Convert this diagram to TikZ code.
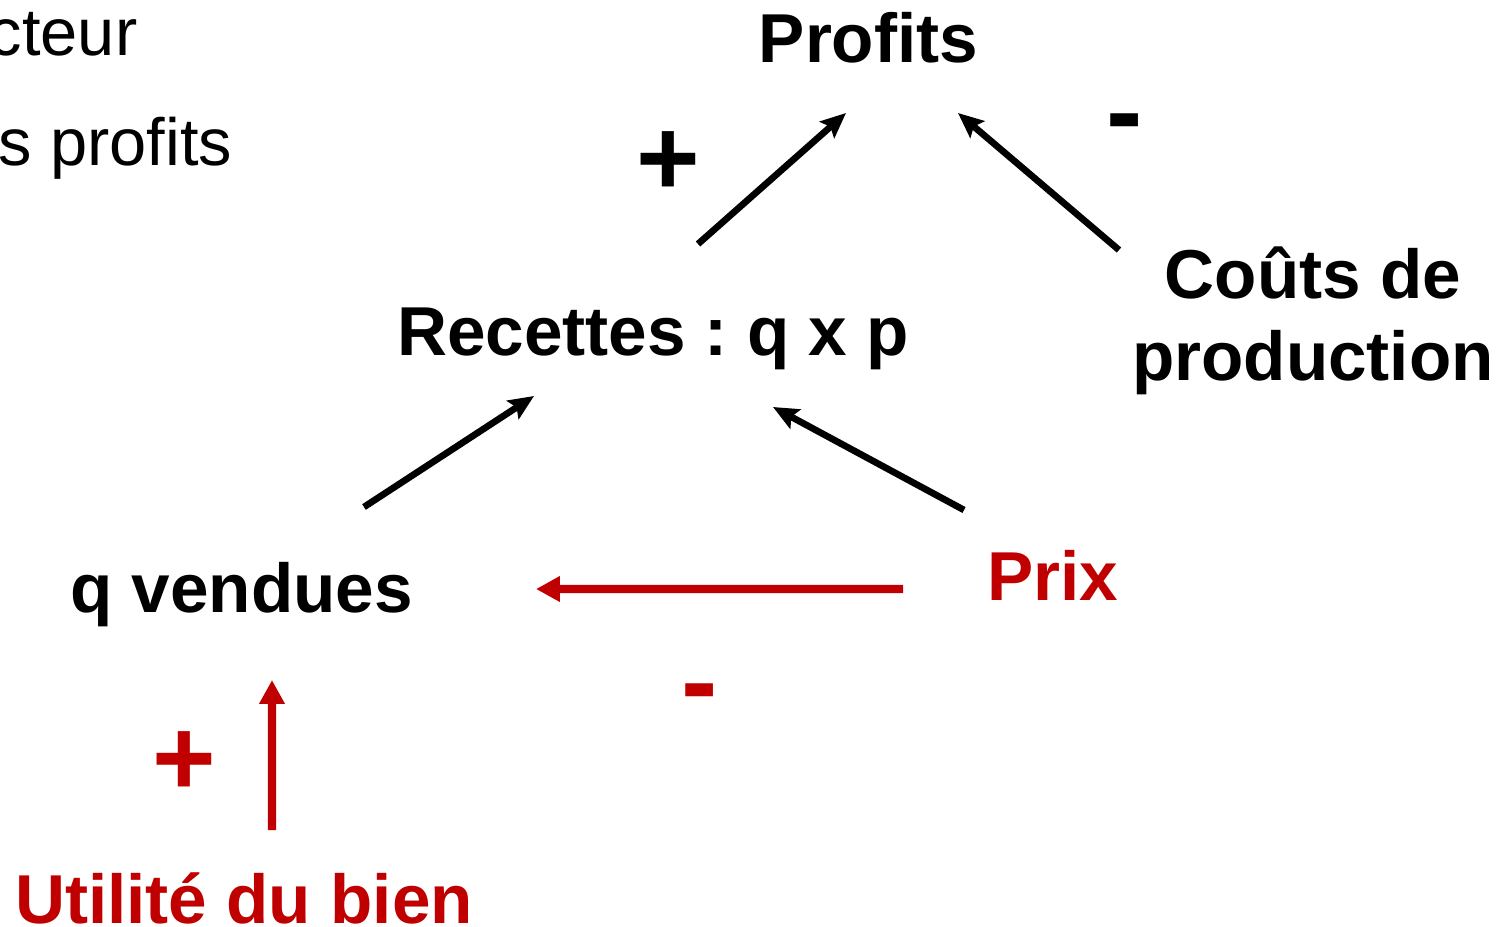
\documentclass[tikz,border=0pt]{standalone}
\usepackage{fontspec}
\setmainfont{Liberation Sans}
\usepackage{tikz}
\usetikzlibrary{arrows.meta, positioning}
\definecolor{darkred}{HTML}{C00000}
\frenchspacing
\tikzstyle{term} = [font=\fontsize{19.7}{23.3}\selectfont\bfseries, inner sep=0pt, anchor=base]
\tikzstyle{redterm} = [term, text=darkred]
\tikzstyle{slidetext} = [font=\fontsize{19}{23}\selectfont, inner sep=0pt, anchor=base east]
\tikzstyle{sign} = [font=\fontsize{31}{36}\selectfont\bfseries, inner sep=0pt, anchor=base]
\tikzstyle{arrow} = [line width=1.9pt, -{Stealth[length=7.2pt, width=6.2pt, inset=1.3pt]}]
\tikzstyle{redarrow} = [darkred, line width=2.4pt, -{Triangle[length=6.8pt, width=6.9pt]}]

\begin{document}
\begin{tikzpicture}
        \useasboundingbox (0,0) rectangle (15.01,-9.26);
        \clip (0,0) rectangle (15.01,-9.26);

        \node (titlea) [slidetext] at (1.38,-0.55) {cteur};
        \node (titleb) [slidetext] at (2.33,-1.65) {s profits};

        \node (profits) [term] at (8.685,-0.62) {Profits};
        \node (recettes) [term] at (6.53,-3.55) {Recettes : q x p};
        \node (couts) [term, anchor=center, align=center] at (13.13,-3.21) {Coûts de\\production};
        \node (qvendues) [term] at (2.415,-6.12) {q vendues};
        \node (prix) [redterm] at (10.53,-6.00) {Prix};
        \node (utilite) [redterm] at (2.44,-9.23) {Utilité du bien};

        \node (plusrec) [sign] at (6.68,-1.95) {+};
        \node (minuscouts) [sign] at (11.25,-1.48) {-};
        \node (minusprix) [sign, text=darkred] at (7.00,-7.18) {-};
        \node (plusutil) [sign, text=darkred] at (1.84,-7.95) {+};

        \draw [arrow] ([shift={(0.45,1.11)}]recettes.base) -- ([shift={(-0.225,-0.51)}]profits.base);
        \draw [arrow] ([shift={(-1.94,0.71)}]couts.center) -- ([shift={(0.895,-0.51)}]profits.base);
        \draw [arrow] ([shift={(1.225,1.05)}]qvendues.base) -- ([shift={(-1.19,-0.41)}]recettes.base);
        \draw [arrow] ([shift={(-0.89,0.90)}]prix.base) -- ([shift={(1.20,-0.52)}]recettes.base);
        \draw [redarrow] ([shift={(-1.50,0.11)}]prix.base) -- ([shift={(2.945,0.23)}]qvendues.base);
        \draw [redarrow] ([shift={(0.28,0.93)}]utilite.base) -- ([shift={(0.305,-0.68)}]qvendues.base);

\end{tikzpicture}
\end{document}
